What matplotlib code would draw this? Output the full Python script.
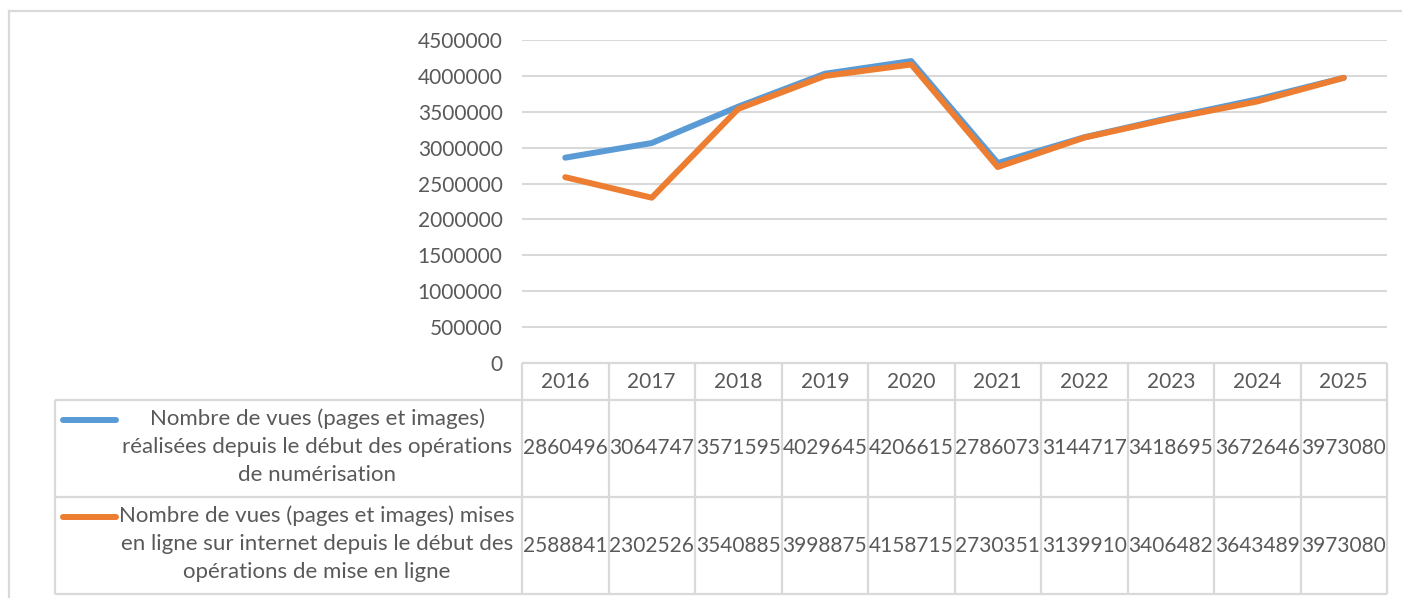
import matplotlib
matplotlib.use("Agg")
import matplotlib.pyplot as plt
from matplotlib.lines import Line2D

years = ["2016", "2017", "2018", "2019", "2020", "2021", "2022", "2023", "2024", "2025"]
vues_realisees = [2860496, 3064747, 3571595, 4029645, 4206615, 2786073, 3144717, 3418695, 3672646, 3973080]
vues_en_ligne = [2588841, 2302526, 3540885, 3998875, 4158715, 2730351, 3139910, 3406482, 3643489, 3973080]
series_labels = [
    "Nombre de vues (pages et images)\nréalisées depuis le début des opérations\nde numérisation",
    "Nombre de vues (pages et images) mises\nen ligne sur internet depuis le début des\nopérations de mise en ligne",
]
y_ticks = [0, 500000, 1000000, 1500000, 2000000, 2500000, 3000000, 3500000, 4000000, 4500000]

BLUE = "#5B9BD5"
ORANGE = "#ED7D31"
GRID = "#D9D9D9"
TXT = "#595959"
FONT = "Lato"
FS = 15
FS_LEG = 16

W, H = 1402, 598
fig = plt.figure(figsize=(W / 100, H / 100), dpi=100)

def fx(px):
    return px / W

def fy(py):
    return 1 - py / H

# outer chart border (cropped at right/bottom)
fig.add_artist(Line2D([fx(9), fx(W)], [fy(11), fy(11)], color=GRID, lw=1.6, transform=fig.transFigure))
fig.add_artist(Line2D([fx(9), fx(9)], [fy(11), fy(H)], color=GRID, lw=1.6, transform=fig.transFigure))

# plot area
PL, PR, PT, PB = 522, 1387, 40, 363
ax = fig.add_axes([fx(PL), fy(PB), fx(PR) - fx(PL), fy(PT) - fy(PB)])
x = list(range(len(years)))
LW = 4.3
ax.plot(x, vues_realisees, color=BLUE, lw=LW, solid_capstyle="round", solid_joinstyle="round", zorder=3)
ax.plot(x, vues_en_ligne, color=ORANGE, lw=LW, solid_capstyle="round", solid_joinstyle="round", zorder=4)
ax.set_xlim(-0.5, len(years) - 0.5)
ax.set_ylim(0, 4500000)
ax.set_yticks(y_ticks)
ax.set_yticklabels([str(v) for v in y_ticks], fontfamily=FONT, fontsize=FS, color=TXT)
ax.tick_params(axis="y", length=0, pad=14)
ax.set_xticks([])
ax.grid(axis="y", color=GRID, lw=1.5)
ax.set_axisbelow(True)
for s in ax.spines.values():
    s.set_visible(False)

# data table
TB = 594
tax = fig.add_axes([fx(PL), fy(TB), fx(PR) - fx(PL), fy(PB) - fy(TB)])
tax.set_xlim(-0.5, len(years) - 0.5)
tax.set_ylim(TB - PB, 0)
tax.axis("off")
r0, r1, r2, r3 = 0, 37, 134, 231
unit = (PR - PL) / len(years)
legend_left = -0.5 - (PL - 55) / unit
kw = dict(color=GRID, lw=1.6, clip_on=False, solid_capstyle="butt")
# horizontal lines
tax.plot([-0.5, len(years) - 0.5], [r0, r0], **kw)
tax.plot([legend_left, len(years) - 0.5], [r1, r1], **kw)
tax.plot([legend_left, len(years) - 0.5], [r2, r2], **kw)
tax.plot([legend_left, len(years) - 0.5], [r3, r3], **kw)
# vertical lines
for i in range(len(years) + 1):
    tax.plot([i - 0.5, i - 0.5], [r0, r3], **kw)
tax.plot([legend_left, legend_left], [r1, r3], **kw)

for i, yr in enumerate(years):
    tax.text(i, (r0 + r1) / 2 + 1, yr, ha="center", va="center", fontfamily=FONT, fontsize=FS, color=TXT, clip_on=False)
for row, (vals, col, lab) in enumerate([(vues_realisees, BLUE, series_labels[0]), (vues_en_ligne, ORANGE, series_labels[1])]):
    top = [r1, r2][row]
    bot = [r2, r3][row]
    mid = (top + bot) / 2
    for i, v in enumerate(vals):
        tax.text(i, mid, str(v), ha="center", va="center", fontfamily=FONT, fontsize=FS, color=TXT, clip_on=False)
    # legend key + label
    kx0 = -0.5 - (PL - 63) / unit
    kx1 = -0.5 - (PL - 116) / unit
    tax.plot([kx0, kx1], [top + 20, top + 20], color=col, lw=LW, solid_capstyle="round", clip_on=False)
    tx = -0.5 - (PL - 317) / unit
    tax.text(tx, mid - 2, lab, ha="center", va="center", multialignment="center", fontfamily=FONT,
             fontsize=FS_LEG, color=TXT, linespacing=1.5, clip_on=False)

fig.savefig("out.png", dpi=100, facecolor="white")
